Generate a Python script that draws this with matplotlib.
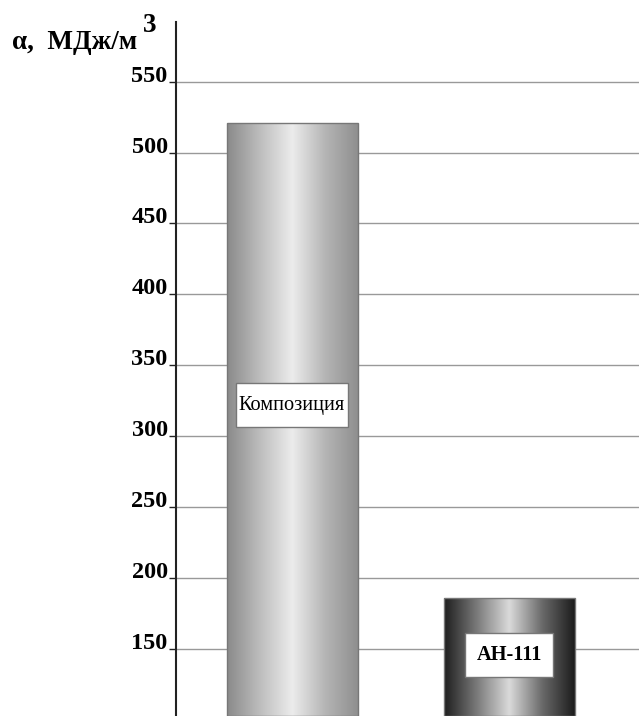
import numpy as np
import matplotlib.pyplot as plt
from matplotlib.colors import LinearSegmentedColormap
from matplotlib.patches import Rectangle

plt.rcParams['font.family'] = ['Liberation Serif', 'DejaVu Serif']

materials = ['Композиция', 'АН-111']
energy = [521, 186]          # MJ/m^3
yticks = [150, 200, 250, 300, 350, 400, 450, 500, 550]

fig = plt.figure(figsize=(6.39, 7.16), dpi=100)
ax = fig.add_axes([176/639, 0, 1 - 176/639, 1 - 22/716])
ax.set_xlim(0, 463)
ax.set_ylim(102.8, 592)

for s in ['top', 'right', 'bottom']:
    ax.spines[s].set_visible(False)
ax.spines['left'].set_color('#222222')
ax.spines['left'].set_linewidth(1.5)
ax.set_xticks([])
ax.set_yticks(yticks)
ax.set_yticklabels([str(t) for t in yticks], fontsize=17.5, fontweight='bold',
                   va='baseline')
ax.tick_params(axis='y', length=5, width=1, color='#222222', pad=1)
ax.yaxis.grid(True, color='#999999', lw=1)
ax.set_axisbelow(True)

# cylinder-like shading across each bar
light = LinearSegmentedColormap.from_list(
    'light', ['#8a8a8a', '#bdbdbd', '#ececec', '#b5b5b5', '#8f8f8f'])
dark = LinearSegmentedColormap.from_list(
    'dark', ['#1e1e1e', '#7a7a7a', '#dadada', '#6a6a6a', '#1c1c1c'])
grad = np.linspace(0, 1, 256)[None, :]

bar_x = [51, 268]
bar_w = 131
for x0, h, cmap in zip(bar_x, energy, [light, dark]):
    rect = ax.bar(x0, h - 102.8, width=bar_w, bottom=102.8, align='edge',
                  color='none', edgecolor='#777777', lw=1, zorder=3)[0]
    im = ax.imshow(grad, cmap=cmap, aspect='auto', zorder=2,
                   extent=[x0, x0 + bar_w, 102.8, h])
    im.set_clip_path(rect)

# name tags on the bars
tags = [(60, 306.3, 112, 31.0, 321.8, 'normal'),
        (289, 130.3, 88, 31.0, 145.8, 'bold')]
for name, (bx, by, bw, bh, ty, wt) in zip(materials, tags):
    ax.add_patch(Rectangle((bx, by), bw, bh, fc='white', ec='#777777',
                           lw=1, zorder=4))
    ax.text(bx + bw / 2, ty, name, ha='center', va='center',
            fontsize=14.7, fontweight=wt, zorder=5)

fig.text(12/639, 1 - 49/716, 'α,  МДж/м', fontsize=19.5, fontweight='bold',
         ha='left', va='baseline')
fig.text(143/639, 1 - 32/716, '3', fontsize=19.5, fontweight='bold',
         ha='left', va='baseline')

fig.savefig('out.png', dpi=100)
